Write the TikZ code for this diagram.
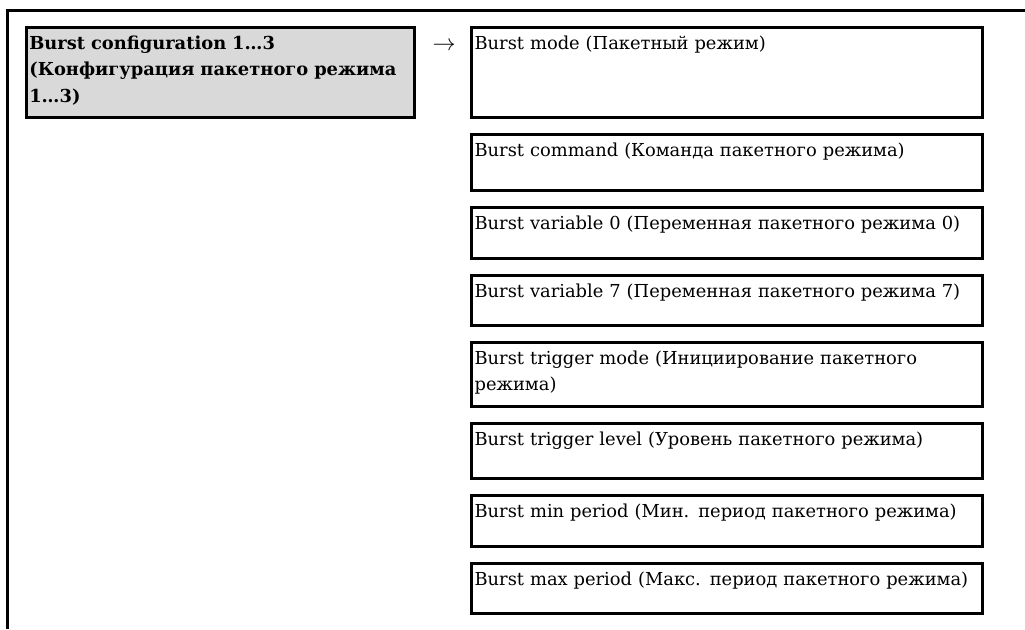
\documentclass[tikz,border=0pt]{standalone}
\usepackage{fontspec}
\setmainfont{DejaVu Serif}
\usetikzlibrary{matrix}

\definecolor{MenuGrey}{HTML}{D9D9D9}
\definecolor{MenuLine}{HTML}{000000}

\tikzset{
  menubox/.style={draw=MenuLine,line width=2pt,inner xsep=2.25pt,inner ysep=3pt,
    text width=378.75pt,align=left,text height=13.5pt,text depth=#1},
  groupbox/.style={menubox=#1,fill=MenuGrey,text width=286.5pt,
    font=\fontsize{13.4pt}{20pt}\selectfont\bfseries}
}

\begin{document}
\begin{tikzpicture}[x=0.75pt,y=-0.75pt]
    \useasboundingbox (0,0) rectangle (1025,629);
    % frame
    \draw[MenuLine,line width=2.25pt] (7.5,629) -- (7.5,10.5) -- (1025,10.5);
    \matrix (menu) at (24.7,25.7) [anchor=north west,inner sep=0pt,column sep=11pt,row sep=10.75pt,
      nodes={anchor=north west,font=\fontsize{13.4pt}{19.5pt}\selectfont}] {
      \node[groupbox=48pt] (cfg) {Burst configuration 1…3\\(Конфигурация пакетного режима\\1…3)}; &[1.5pt]
      \node[inner sep=0pt,text height=18pt,font=\fontsize{16pt}{18pt}\selectfont] (arr) {$\rightarrow$}; &
      \node[menubox=48pt] (mode) {Burst mode (Пакетный режим)}; \\
      & & \node[menubox=22.5pt] (cmd) {Burst command (Команда пакетного режима)}; \\
      & & \node[menubox=18.75pt] (var0) {Burst variable 0 (Переменная пакетного режима 0)}; \\
      & & \node[menubox=18pt] (var7) {Burst variable 7 (Переменная пакетного режима 7)}; \\
      & & \node[menubox=28.5pt] (trigmode) {Burst trigger mode (Инициирование пакетного\\режима)}; \\
      & & \node[menubox=21.75pt] (triglevel) {Burst trigger level (Уровень пакетного режима)}; \\
      & & \node[menubox=18.75pt] (minper) {Burst min period (Мин. период пакетного режима)}; \\
      & & \node[menubox=18pt] (maxper) {Burst max period (Макс. период пакетного режима)}; \\
    };
\end{tikzpicture}
\end{document}
